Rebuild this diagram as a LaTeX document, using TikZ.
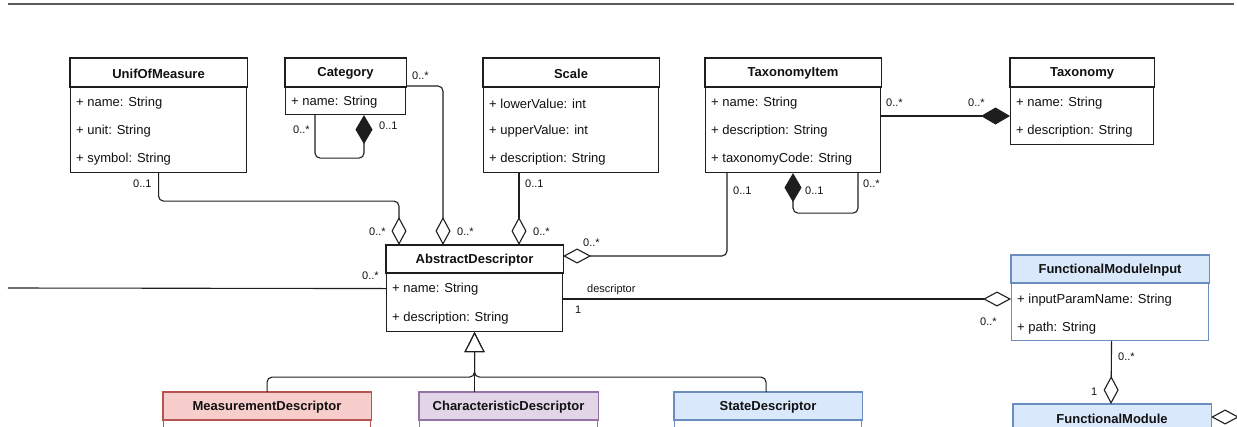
\documentclass[tikz,border=0pt]{standalone}
\usepackage{fontspec}
\setmainfont{Liberation Sans}
\usetikzlibrary{arrows.meta,calc}

\definecolor{linec}{HTML}{1E1E1E}
\definecolor{txt}{HTML}{111111}
\definecolor{rule}{HTML}{5A5A5A}
\definecolor{redfill}{HTML}{F8CECC}
\definecolor{redline}{HTML}{B85450}
\definecolor{violetfill}{HTML}{E1D5E7}
\definecolor{violetline}{HTML}{9673A6}
\definecolor{bluefill}{HTML}{DAE8FC}
\definecolor{blueline}{HTML}{6C8EBF}

\tikzset{
  cbox/.style={draw=linec, line width=1.1pt, fill=white, anchor=north west, inner sep=0pt},
  hdr/.style={draw=linec, line width=1.1pt, fill=white},
  ctitle/.style={font=\bfseries\fontsize{13}{15}\selectfont, inner sep=0pt, text=txt, yshift=-1pt},
  attr/.style={font=\fontsize{13}{15}\selectfont, anchor=west, inner sep=0pt, text=txt, yshift=-1.5pt},
  mult/.style={font=\fontsize{11}{13}\selectfont, anchor=west, inner sep=0pt, text=txt},
  conn/.style={draw=linec, line width=1.1pt, rounded corners=5pt},
  agg/.style={conn, -{Diamond[open, fill=white, length=28pt, width=15pt]}},
  comp/.style={conn, -{Diamond[length=29pt, width=17pt]}},
  inh/.style={conn, -{Triangle[open, fill=white, length=20pt, width=20pt]}},
}

\begin{document}
\begin{tikzpicture}[x=1pt, y=-1pt]
\useasboundingbox (0,0) rectangle (1237,426);
\clip (0,0) rectangle (1237,426);

% rule across the top
\coordinate (ruleL) at (8,4);
\coordinate (ruleR) at (1234,4);
\draw[rule, line width=1.5pt] (ruleL) -- (ruleR);

% ---------- UnifOfMeasure ----------
\node[cbox, minimum width=176pt, minimum height=114pt] (uom) at (70,58) {};
\draw[hdr] (uom.north west) rectangle ($(uom.north east)+(0,29)$);
\node[ctitle] (uomT) at ($(uom.north)+(0,14.5)$) {UnifOfMeasure};
\node[attr] (uomA1) at (76,102) {+ name: String};
\node[attr] (uomA2) at (76,130) {+ unit: String};
\node[attr] (uomA3) at (76,158) {+ symbol: String};

% ---------- Category ----------
\node[cbox, minimum width=120pt, minimum height=56pt] (cat) at (285,58) {};
\draw[hdr] (cat.north west) rectangle ($(cat.north east)+(0,29)$);
\node[ctitle] (catT) at ($(cat.north)+(0,14.5)$) {Category};
\node[attr] (catA1) at (291,101) {+ name: String};

% ---------- Scale ----------
\node[cbox, minimum width=175pt, minimum height=114pt] (scale) at (483,58) {};
\draw[hdr] (scale.north west) rectangle ($(scale.north east)+(0,29)$);
\node[ctitle] (scaleT) at ($(scale.north)+(0,14.5)$) {Scale};
\node[attr] (scaleA1) at (489,102) {+ lowerValue: int};
\node[attr] (scaleA2) at (489,130) {+ upperValue: int};
\node[attr] (scaleA3) at (489,158) {+ description: String};

% ---------- TaxonomyItem ----------
\node[cbox, minimum width=175pt, minimum height=114pt] (ti) at (705,58) {};
\draw[hdr] (ti.north west) rectangle ($(ti.north east)+(0,29)$);
\node[ctitle] (tiT) at ($(ti.north)+(0,14.5)$) {TaxonomyItem};
\node[attr] (tiA1) at (711,102) {+ name: String};
\node[attr] (tiA2) at (711,130) {+ description: String};
\node[attr] (tiA3) at (711,158) {+ taxonomyCode: String};

% ---------- Taxonomy ----------
\node[cbox, minimum width=143pt, minimum height=86pt] (tax) at (1010,58) {};
\draw[hdr] (tax.north west) rectangle ($(tax.north east)+(0,29)$);
\node[ctitle] (taxT) at ($(tax.north)+(0,14.5)$) {Taxonomy};
\node[attr] (taxA1) at (1016,102) {+ name: String};
\node[attr] (taxA2) at (1016,130) {+ description: String};

% ---------- AbstractDescriptor ----------
\node[cbox, minimum width=176pt, minimum height=86pt] (ad) at (386,245) {};
\draw[hdr] (ad.north west) rectangle ($(ad.north east)+(0,28)$);
\node[ctitle] (adT) at ($(ad.north)+(0,14)$) {AbstractDescriptor};
\node[attr] (adA1) at (392,288) {+ name: String};
\node[attr] (adA2) at (392,317) {+ description: String};

% ---------- FunctionalModuleInput ----------
\node[cbox, draw=blueline, minimum width=197pt, minimum height=85pt] (fmi) at (1011,255) {};
\draw[hdr, draw=blueline, fill=bluefill] (fmi.north west) rectangle ($(fmi.north east)+(0,28)$);
\node[ctitle] (fmiT) at ($(fmi.north)+(0,14)$) {FunctionalModuleInput};
\node[attr] (fmiA1) at (1017,299) {+ inputParamName: String};
\node[attr] (fmiA2) at (1017,327) {+ path: String};

% ---------- FunctionalModule ----------
\node[cbox, draw=blueline, minimum width=197pt, minimum height=80pt] (fm) at (1013,404) {};
\draw[hdr, draw=blueline, fill=bluefill] (fm.north west) rectangle ($(fm.north east)+(0,28)$);
\node[ctitle] (fmT) at ($(fm.north)+(0,14)$) {FunctionalModule};

% ---------- descriptor subclasses ----------
\node[cbox, draw=redline, minimum width=207pt, minimum height=80pt] (md) at (163,392) {};
\draw[hdr, draw=redline, fill=redfill] (md.north west) rectangle ($(md.north east)+(0,28)$);
\node[ctitle] (mdT) at ($(md.north)+(0,14)$) {MeasurementDescriptor};

\node[cbox, draw=violetline, minimum width=178pt, minimum height=80pt] (cd) at (419,392) {};
\draw[hdr, draw=violetline, fill=violetfill] (cd.north west) rectangle ($(cd.north east)+(0,28)$);
\node[ctitle] (cdT) at ($(cd.north)+(0,14)$) {CharacteristicDescriptor};

\node[cbox, draw=blueline, minimum width=187pt, minimum height=80pt] (sd) at (674,392) {};
\draw[hdr, draw=blueline, fill=bluefill] (sd.north west) rectangle ($(sd.north east)+(0,28)$);
\node[ctitle] (sdT) at ($(sd.north)+(0,14)$) {StateDescriptor};

% ---------- associations ----------
\draw[agg] (uom.south) -- ++(0,28) -| ($(ad.north west)+(13,0)$);
\draw[agg] ($(cat.north east)+(0,28)$) -| ($(ad.north west)+(57,0)$);
\draw[agg] ($(scale.south west)+(36,0)$) -- ($(ad.north west)+(133,0)$);
\draw[agg] ($(ti.south west)+(22,0)$) |- ($(ad.north east)+(0,11)$);

\draw[comp] ($(cat.south west)+(30,0)$) -- ++(0,43) -| ($(cat.south west)+(79,0)$);
\draw[comp] ($(ti.south west)+(153,0)$) -- ++(0,40) -| ($(ti.south west)+(88,0)$);
\draw[comp] ($(ti.north east)+(0,58)$) -- ($(tax.north west)+(0,58)$);

\coordinate (leftEnd) at (8,288);
\draw[conn] (leftEnd) -- (ad.west);

\draw[agg] ($(ad.north east)+(0,54)$) -- ($(fmi.north west)+(0,44)$);
\draw[agg] ($(fmi.south)+(1.5,0)$) -- ($(fm.north west)+(98,0)$);

\coordinate (fmOut) at (1262,417);
\draw[agg] (fmOut) -- ($(fm.north east)+(0,13)$);

% ---------- generalisation ----------
\draw[inh] (md.north) |- ($(ad.south)+(0,45)$) -- (ad.south);
\draw[inh] (cd.north -| ad.south) -- (ad.south);
\draw[inh] ($(sd.north)+(-2,0)$) |- ($(ad.south)+(0,45)$) -- (ad.south);

% ---------- multiplicities and role ----------
\node[mult] (m1) at (133,184) {0..1};
\node[mult] (m2) at (369,232) {0..*};
\node[mult] (m3) at (412,76) {0..*};
\node[mult] (m4) at (457,232) {0..*};
\node[mult] (m5) at (293,130) {0..*};
\node[mult] (m6) at (379,126) {0..1};
\node[mult] (m7) at (525,184) {0..1};
\node[mult] (m8) at (533,232) {0..*};
\node[mult] (m9) at (733,191) {0..1};
\node[mult] (m10) at (583,243) {0..*};
\node[mult] (m11) at (805,191) {0..1};
\node[mult] (m12) at (863,184) {0..*};
\node[mult] (m13) at (886,103) {0..*};
\node[mult] (m14) at (968,103) {0..*};
\node[mult] (m15) at (362,276) {0..*};
\node[mult] (m16) at (587,290) {descriptor};
\node[mult] (m17) at (575,310) {1};
\node[mult] (m18) at (980,322) {0..*};
\node[mult] (m19) at (1118,357) {0..*};
\node[mult] (m20) at (1091,392) {1};
\end{tikzpicture}
\end{document}
